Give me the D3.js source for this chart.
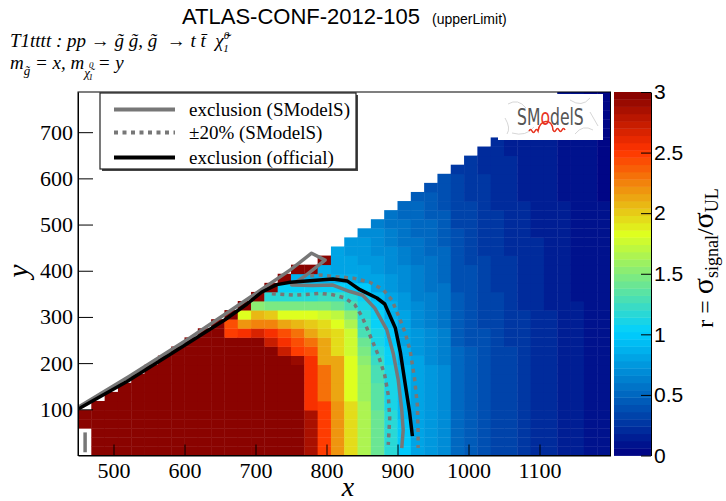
<!DOCTYPE html>
<html lang="en">
<head>
<meta charset="UTF-8">
<title>ATLAS-CONF-2012-105 (upperLimit)</title>
<script src="https://cdn.jsdelivr.net/npm/d3@7"></script>
<style>
    body { margin: 0; background: #fff; }
    text { white-space: pre; }
</style>
</head>
<body>
<svg id="main" width="726" height="501"></svg>
<script>
    // histogram range: x = gluino mass, y = LSP mass (GeV)
    const xRange = [450, 1200];
    const yRange = [0, 787];

    // r = sigma_signal / sigma_UL (x100), one string per x bin, from the lowest y bin upward.
    // "v*n" = v repeated n times, "-" = empty bin
    const rColumns = [
        "-*3 300*2",
        "300*6",
        "300*7",
        "300*8",
        "300*9",
        "300*10",
        "300*11",
        "300*12",
        "300*13",
        "300*14",
        "300*15",
        "300*13 250 240 300",
        "300*13 255 220 185 300",
        "300*12 295 265 225 205 155 300",
        "300*12 275 255 225 198 145 115 300",
        "300*11 275 255 245 215 185 145 118 103 300",
        "300*10 290 250 245 230 205 185 145 118 103 88 300",
        "282*5 255*6 245 230 215 200 182 145 118 103 87 300",
        "250*6 230*4 215*3 200 193 178 145 120 104 87 85 300",
        "220*6 210*5 195*3 185 170 140 120 103 87 84 82 80",
        "192*6 185*5 175*3 165 155 128 115 100 85 82 79 77 74",
        "166*6 158*4 150 145 138 130 122 115 110 105 98 83 80 77 74 72 70",
        "140*5 135*3 130 127 122 118 114 110 107 103 100 90 82 78 76 73 70 68 66 64",
        "116*5 113*3 110 108 105 103 100 97 93 89 85 80 77 74 71 68 66 63 61 59 57",
        "97*4 95*3 93*2 91 89 86 84 82 80 78 76 73 71 68 66 63 61 58 56 54 52 50",
        "83*8 81 80 78 76 74 72 71 69 67 65 64 62 60 58 57 55 53 51 50 48 46",
        "75*8 74 72 71 69 68 66 65 63 62 60 59 57 56 54 53 51 50 48 47 45 44 42",
        "68*8 67 66 65 63 62 61 59 58 57 55 54 53 51 50 49 47 46 45 43 42 41 39 38",
        "51*9 50 48 48 47 46 45 44 43 43 42 40 39 38 37 37 36 35 34 32 31 31 30 29",
        "45*9 44 43 43 42 41 40 39 38 37 37 36 36 35 34 33 32 31 31 30 29 28 27 26 26",
        "39*9 38 38 37 37 36 35 34 33 33 32 31 31 30 29 28 28 27 26 26 25 24 24 23 22 21",
        "35*10 34 33 32 32 31 31 30 30 29 28 27 27 26 26 25 25 24 23 22 22 21 20 20 20 19",
        "31*10 30 30 29 28 28 27 26 26 26 25 25 24 23 23 22 21 21 20 20 20 19 19 18 17 17 16",
        "26*10 26 26 25 25 24 24 23 23 22 21 21 20 20 20 20 19 19 18 17 17 16 16 15 15 14 14 14",
        "23*11 22 22 21 21 20 20 20 20 19 19 19 18 18 17 17 16 16 15 15 14 14 14 14 13 13 12 12",
        "20*11 19 19 19 18 18 17 17 17 16 16 16 15 15 14 14 14 14 14 13 13 13 12 12 12 11 11 10 10",
        "16*12 15 15 15 14 14 14 14 14 14 14 13 13 13 12 12 12 11 11 11 10 10 10 10 9 9 9 9 9",
        "13*12 12*5 11*4 10*4 9*8 8*4 7*3",
        "10*13 9*9 8*5 7*5 6*5 5*3",
        "8*14 7*6 6*8 5*8 4*4"
    ];
    const nYBins = 40;

    const xTicks = [500, 600, 700, 800, 900, 1000, 1100];
    const yTicks = [100, 200, 300, 400, 500, 600, 700];
    const zTicks = [0, 0.5, 1, 1.5, 2, 2.5, 3];

    // exclusion lines (x, y in GeV)
    const officialX = [451, 519, 612, 657, 688, 709, 730, 749, 781, 809, 829, 847, 871, 882, 897, 904, 911, 917, 921];
    const officialY = [101, 160, 250, 294, 328, 354, 370, 375, 379, 382, 378, 359, 341, 328, 276, 224, 153, 94, 42];
    const smodelsX = [452, 523, 608, 692, 749, 779, 798, 770, 751, 780, 809, 833, 851, 868, 885, 894, 901, 906, 908, 906];
    const smodelsY = [106, 172, 255, 342, 402, 438, 423, 389, 369, 368, 369, 355, 347, 319, 272, 221, 164, 99, 55, 16];
    const smodelsCornerX = [460, 460];
    const smodelsCornerY = [7, 50];
    const bandInnerX = [723, 756, 791, 809, 826, 840, 850, 861, 873, 882, 887, 889, 887];
    const bandInnerY = [350, 347, 351, 348, 341, 326, 301, 261, 217, 174, 131, 81, 23];
    const bandOuterX = [777, 791, 814, 838, 861, 880, 892, 901, 911, 918, 924, 928, 929, 929];
    const bandOuterY = [389, 391, 387, 384, 375, 359, 337, 304, 265, 225, 167, 109, 52, 16];

    const legendLabels = ['exclusion (SModelS)', '\u00b120% (SModelS)', 'exclusion (official)'];

    // ROOT "pretty palette" stops
    const paletteStops = [0, 0.34, 0.61, 0.84, 1];
    const paletteColors = ['rgb(0,0,130)', 'rgb(0,207,255)', 'rgb(222,255,31)', 'rgb(255,51,0)', 'rgb(130,0,0)'];
    const zMax = 3;

    const serif = '"Liberation Serif", "Times New Roman", serif';
    const sans = '"Liberation Sans", Arial, sans-serif';

    let svg = d3.select('svg#main').style('font-family', serif);
    const plotL = 78, plotR = 610.5, plotT = 92, plotB = 455.5;
    const barL = 614, barR = 651;

    const xScale = d3.scaleLinear().domain(xRange).range([plotL, plotR]);
    const yScale = d3.scaleLinear().domain(yRange).range([plotB, plotT]);
    const zScale = d3.scaleLinear().domain([0, zMax]).range([plotB, plotT]);

    const palette = d3.scaleLinear()
        .domain(paletteStops.map(s => s * zMax))
        .range(paletteColors)
        .clamp(true);
    const nColors = 50;
    function colorOf(r) {
        let k = Math.max(0, Math.min(nColors - 1, Math.floor(r / zMax * nColors)));
        return palette((k + 0.5) / nColors * zMax);
    }

    function expand(s) {
        const out = [];
        s.trim().split(/\s+/).forEach(tok => {
            const parts = tok.split('*');
            const n = parts.length > 1 ? +parts[1] : 1;
            for (let k = 0; k < n; k++) out.push(parts[0] === '-' ? null : +parts[0] / 100);
        });
        return out;
    }

    const dx = (xRange[1] - xRange[0]) / rColumns.length;
    const dy = (yRange[1] - yRange[0]) / nYBins;
    const cells = [];
    rColumns.forEach((col, i) => {
        expand(col).forEach((r, j) => {
            if (r !== null) cells.push({x0: xRange[0] + i * dx, y0: yRange[0] + j * dy, r: r});
        });
    });

    svg.append('g').selectAll('rect')
        .data(cells)
        .join('rect')
        .attr('x', d => xScale(d.x0))
        .attr('y', d => yScale(d.y0 + dy))
        .attr('width', d => xScale(d.x0 + dx) - xScale(d.x0) + 0.4)
        .attr('height', d => yScale(d.y0) - yScale(d.y0 + dy) + 0.4)
        .attr('fill', d => colorOf(d.r));

    // contour lines
    const line = d3.line().x(d => xScale(d[0])).y(d => yScale(d[1]));
    const pts = (xs, ys) => xs.map((v, k) => [v, ys[k]]);
    const gray = '#777';
    const dotted = '4,4.5';

    [[bandInnerX, bandInnerY], [bandOuterX, bandOuterY]].forEach(b => {
        svg.append('path').attr('d', line(pts(b[0], b[1])))
            .attr('fill', 'none').attr('stroke', gray).attr('stroke-width', 3.5)
            .attr('stroke-dasharray', dotted);
    });
    svg.append('path').attr('d', line(pts(smodelsCornerX, smodelsCornerY)))
        .attr('fill', 'none').attr('stroke', gray).attr('stroke-width', 3.5);
    svg.append('path').attr('d', line(pts(smodelsX, smodelsY)))
        .attr('fill', 'none').attr('stroke', gray).attr('stroke-width', 3.5)
        .attr('stroke-linejoin', 'round');
    svg.append('path').attr('d', line(pts(officialX, officialY)))
        .attr('fill', 'none').attr('stroke', '#000').attr('stroke-width', 3.5)
        .attr('stroke-linejoin', 'round');

    // SModelS logo
    let logo = svg.append('g');
    logo.append('rect').attr('x', 498).attr('y', 94).attr('width', 105).attr('height', 46).attr('fill', '#fff');
    logo.append('path')
        .attr('d', 'M508,104 q10,-6 18,4 M570,100 q12,8 20,-2 M512,133 q14,4 22,-6 M575,134 q8,-10 18,-4 M590,112 l8,14 M505,118 q6,10 2,16')
        .attr('fill', 'none').attr('stroke', '#ccc').attr('stroke-width', 0.8);
    let logoWord = logo.append('g').attr('transform', 'translate(517,125) scale(0.68,1)');
    let cursor = 0;
    [['SM', '#555'], ['o', '#e8321e'], ['delS', '#555']].forEach(p => {
        let t = logoWord.append('text').attr('x', cursor).attr('y', 0)
            .style('font-family', '"DejaVu Sans", sans-serif').attr('font-size', 23)
            .attr('fill', p[1]).text(p[0]);
        cursor += t.node().getComputedTextLength();
    });
    logo.append('path')
        .attr('d', 'M529,131 q1.5,-3 3,0 t3,0 t3,0 C540,119 552,118 553,130 q1.5,3 3,0 t3,0 t3,0 t3,0')
        .attr('fill', 'none').attr('stroke', '#e8321e').attr('stroke-width', 1.6);

    // legend
    let legend = svg.append('g');
    legend.append('rect').attr('x', 102).attr('y', 95).attr('width', 256).attr('height', 76).attr('fill', '#444');
    legend.append('rect').attr('x', 100).attr('y', 93).attr('width', 256).attr('height', 76)
        .attr('fill', '#fff').attr('stroke', '#222').attr('stroke-width', 1.2);
    const legendStyles = [
        {stroke: gray, dash: null},
        {stroke: gray, dash: dotted},
        {stroke: '#000', dash: null}
    ];
    let legendItem = legend.selectAll('.lineLegend').data(legendLabels)
        .enter().append('g')
        .attr('class', 'lineLegend')
        .attr('transform', (d, i) => 'translate(114,' + [109.5, 132.5, 157.5][i] + ')');
    legendItem.append('line')
        .attr('x1', 0).attr('x2', 61)
        .attr('stroke', (d, i) => legendStyles[i].stroke)
        .attr('stroke-width', 4)
        .attr('stroke-dasharray', (d, i) => legendStyles[i].dash);
    legendItem.append('text').text(d => d)
        .attr('x', 75).attr('y', 6).attr('font-size', 19);

    // frame and axes
    svg.append('rect').attr('x', plotL).attr('y', plotT)
        .attr('width', plotR - plotL).attr('height', plotB - plotT)
        .attr('fill', 'none').attr('stroke', '#000').attr('stroke-width', 1);

    const xMinor = d3.range(460, 1200, 20).filter(v => v % 100 !== 0);
    const yMinor = d3.range(20, 787, 20).filter(v => v % 100 !== 0);

    let gx = svg.append('g').attr('transform', 'translate(0,' + plotB + ')');
    gx.call(d3.axisBottom(xScale).tickValues(xMinor).tickSize(-6).tickFormat(''));
    gx.call(d3.axisBottom(xScale).tickValues(xTicks).tickSizeInner(-11).tickSizeOuter(0)
        .tickPadding(7).tickFormat(d3.format('d')));
    let gy = svg.append('g').attr('transform', 'translate(' + plotL + ',0)');
    gy.call(d3.axisLeft(yScale).tickValues(yMinor).tickSize(-8).tickFormat(''));
    gy.call(d3.axisLeft(yScale).tickValues(yTicks).tickSizeInner(-15).tickSizeOuter(0)
        .tickPadding(5).tickFormat(d3.format('d')));

    [gx, gy].forEach(g => {
        g.attr('font-family', serif);
        g.selectAll('path.domain').attr('stroke', '#000');
        g.selectAll('.tick line').attr('stroke', '#000');
        g.selectAll('text').attr('font-size', 22).attr('fill', '#000');
    });

    // colour bar
    const barSteps = d3.range(nColors);
    svg.append('g').selectAll('rect').data(barSteps).join('rect')
        .attr('x', barL).attr('width', barR - barL)
        .attr('y', k => zScale((k + 1) / nColors * zMax))
        .attr('height', k => zScale(k / nColors * zMax) - zScale((k + 1) / nColors * zMax) + 0.4)
        .attr('fill', k => palette((k + 0.5) / nColors * zMax));
    let gz = svg.append('g').attr('transform', 'translate(' + barR + ',0)')
        .attr('font-family', serif)
        .call(d3.axisRight(zScale).tickValues(zTicks).tickSizeInner(-10).tickSizeOuter(0)
            .tickPadding(3).tickFormat(d3.format('~g')));
    gz.selectAll('path.domain').attr('stroke', '#000');
    gz.selectAll('.tick line').attr('stroke', '#000');
    gz.selectAll('text').attr('font-size', 21).attr('fill', '#000');

    // axis titles
    svg.append('text').attr('x', 348).attr('y', 496).attr('text-anchor', 'middle')
        .attr('font-style', 'italic').attr('font-size', 28).text('x');
    svg.append('text').attr('transform', 'translate(28,271) rotate(-90)').attr('text-anchor', 'middle')
        .attr('font-style', 'italic').attr('font-size', 30).text('y');

    let zTitle = svg.append('text').attr('transform', 'translate(713,258) rotate(-90)')
        .attr('text-anchor', 'middle').attr('font-size', 24);
    zTitle.append('tspan').text('r = ');
    zTitle.append('tspan').attr('font-size', 30).text('\u03c3');
    zTitle.append('tspan').attr('font-size', 18).attr('dy', 5).text('signal');
    zTitle.append('tspan').attr('dy', -5).text('/');
    zTitle.append('tspan').attr('font-size', 30).text('\u03c3');
    zTitle.append('tspan').attr('font-size', 18).attr('dy', 5).text('UL');

    // titles
    svg.append('text').attr('x', 182).attr('y', 24)
        .style('font-family', sans).attr('font-size', 22).text('ATLAS-CONF-2012-105');
    svg.append('text').attr('x', 432).attr('y', 24)
        .style('font-family', sans).attr('font-size', 14).text('(upperLimit)');

    let sub1 = svg.append('text').attr('x', 10).attr('y', 47).attr('font-style', 'italic').attr('font-size', 19);
    sub1.append('tspan').text('T1tttt : pp \u2192 g\u0303 g\u0303, g\u0303  \u2192 t t\u0304  \u03c7\u0303');
    sub1.append('tspan').attr('font-size', 11).attr('dy', -8).text('0');
    sub1.append('tspan').attr('font-size', 11).attr('dx', -6).attr('dy', 13).text('1');

    let sub2 = svg.append('text').attr('x', 10).attr('y', 69).attr('font-style', 'italic').attr('font-size', 19);
    sub2.append('tspan').text('m');
    sub2.append('tspan').attr('font-size', 13).attr('dy', 6).text('g\u0303');
    sub2.append('tspan').attr('dy', -6).text(' = x, m');
    sub2.append('tspan').attr('font-size', 13).attr('dy', 8).text('\u03c7\u0303');
    sub2.append('tspan').attr('font-size', 9).attr('dx', -1).attr('dy', -9).text('0');
    sub2.append('tspan').attr('font-size', 9).attr('dx', -5).attr('dy', 12).text('1');
    sub2.append('tspan').attr('dy', -11).text(' = y');
</script>
</body>
</html>
